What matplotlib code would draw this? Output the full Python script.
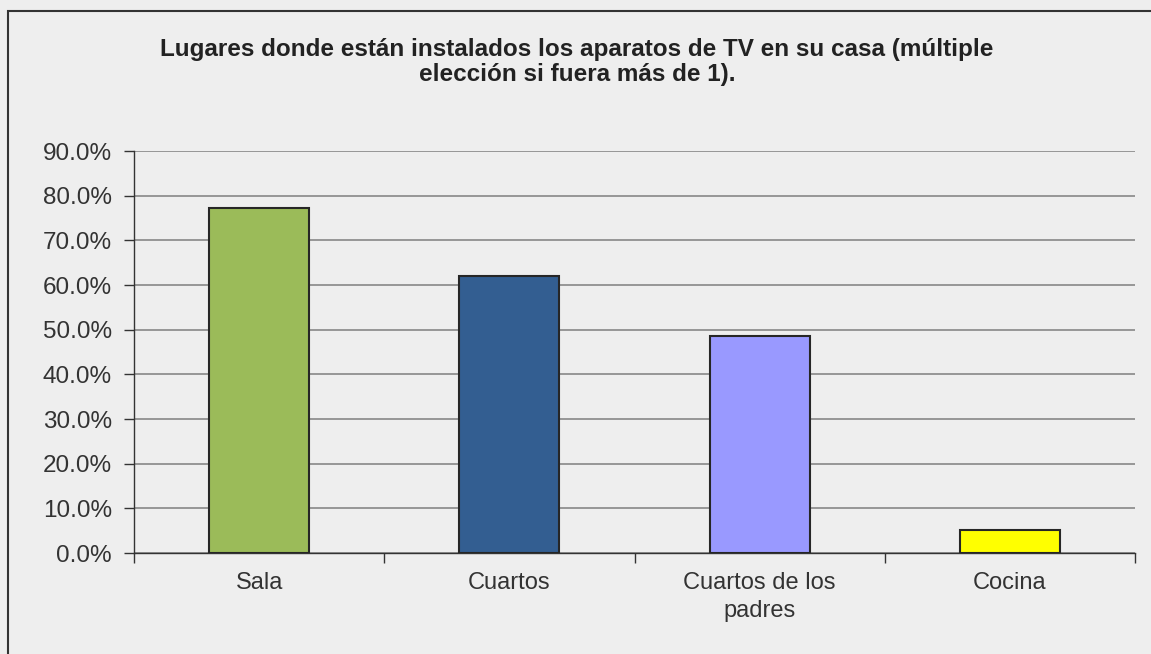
import matplotlib
matplotlib.use("Agg")
import matplotlib.pyplot as plt
from matplotlib.patches import Rectangle
from matplotlib.ticker import FuncFormatter
import numpy as np

categories = ["Sala", "Cuartos", "Cuartos de los\npadres", "Cocina"]
values = [77.2, 62.0, 48.6, 5.1]
colors = ["#9BBB59", "#335E91", "#9999FF", "#FFFF00"]
title = "Lugares donde están instalados los aparatos de TV en su casa (múltiple\nelección si fuera más de 1)."

plt.rcParams["font.family"] = ["Liberation Sans", "DejaVu Sans"]
bg = "#EEEEEE"

fig = plt.figure(figsize=(11.51, 6.54), dpi=100)
fig.patch.set_facecolor(bg)

# outer chart border
fig.patches.append(Rectangle((8 / 1151, -0.05), 1.1, 1 - 11 / 654 + 0.05,
                             transform=fig.transFigure, fill=False,
                             edgecolor="#333333", linewidth=1.5))

ax = fig.add_axes([134 / 1151, 1 - 553 / 654, (1135 - 134) / 1151, (553 - 151) / 654])
ax.set_facecolor(bg)

x = np.arange(len(categories))
ax.bar(x, values, width=0.4, color=colors, edgecolor="#262626", linewidth=1.5, zorder=3)

ax.set_ylim(0, 90)
ax.set_xlim(-0.5, len(categories) - 0.5)
ax.set_yticks(np.arange(0, 91, 10))
ax.yaxis.set_major_formatter(FuncFormatter(lambda v, p: f"{v:.1f}%"))
ax.yaxis.grid(True, color="#7F7F7F", linewidth=1.1, zorder=0)
ax.set_axisbelow(True)

ax.set_xticks(x)
ax.set_xticklabels(categories, fontsize=17, color="#333333", linespacing=1.3)
ax.set_xticks(np.arange(-0.5, len(categories)), minor=True)
ax.tick_params(axis="x", which="major", length=0, pad=14)
ax.tick_params(axis="x", which="minor", length=7, width=1, color="#333333", direction="out")
ax.tick_params(axis="y", length=7, width=1, color="#333333", labelsize=17.5,
               labelcolor="#333333", pad=9)

for s in ["top", "right"]:
    ax.spines[s].set_visible(False)
for s in ["left", "bottom"]:
    ax.spines[s].set_color("#333333")
    ax.spines[s].set_linewidth(1)

fig.text(577 / 1151, 1 - 62 / 654, title, ha="center", va="center",
         fontsize=17.5, fontweight="bold", color="#222222", linespacing=1.1)

fig.savefig("out.png", dpi=100, facecolor=bg)
